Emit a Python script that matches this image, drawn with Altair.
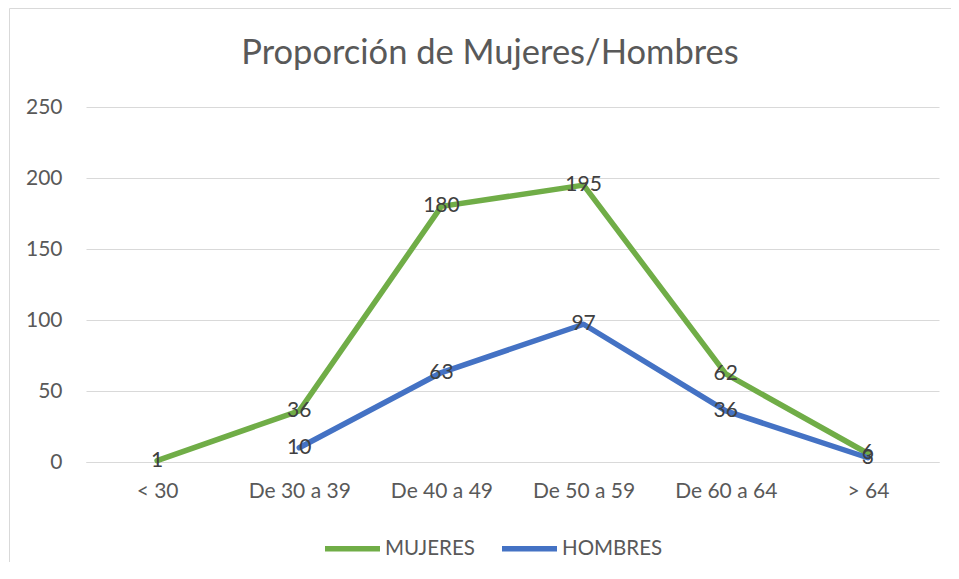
import altair as alt
import pandas as pd

categories = ["< 30", "De 30 a 39", "De 40 a 49", "De 50 a 59", "De 60 a 64", "> 64"]
mujeres = [1, 36, 180, 195, 62, 6]
hombres = [None, 10, 63, 97, 36, 3]
series_names = ["MUJERES", "HOMBRES"]
series_colors = ["#70AD47", "#4472C4"]
title_text = "Proporción de Mujeres/Hombres"

rows = []
for name, vals in zip(series_names, [mujeres, hombres]):
    for c, v in zip(categories, vals):
        if v is not None:
            rows.append({"grupo": c, "serie": name, "valor": v})
df = pd.DataFrame(rows)

FONT = "Lato"
GRAY = "#595959"
FS = 21

x = alt.X("grupo:N", sort=categories, title=None,
          scale=alt.Scale(type="point", padding=0.5),
          axis=alt.Axis(labelAngle=0, labelFontSize=FS, labelColor=GRAY, labelFont=FONT,
                        ticks=False, domainColor="#D9D9D9", labelPadding=18, grid=False))
y = alt.Y("valor:Q", title=None,
          scale=alt.Scale(domain=[0, 250], nice=False),
          axis=alt.Axis(values=[0, 50, 100, 150, 200, 250], labelFontSize=FS, labelColor=GRAY,
                        labelFont=FONT, ticks=False, domain=False, gridColor="#D9D9D9",
                        labelPadding=24))

one = pd.DataFrame({"t": [title_text]})

border = alt.Chart(one).mark_rect(
    fill=None, stroke="#D9D9D9", strokeWidth=1
).encode(x=alt.value(-76.5), x2=alt.value(900), y=alt.value(-98.5), y2=alt.value(600))

title = alt.Chart(one).mark_text(
    fontSize=34.5, font=FONT, color=GRAY, baseline="middle", align="center"
).encode(x=alt.value(404), y=alt.value(-53), text="t:N")

lines = alt.Chart(df).mark_line(strokeWidth=5.5, strokeCap="round", strokeJoin="round").encode(
    x=x, y=y,
    color=alt.Color("serie:N", sort=series_names,
                    scale=alt.Scale(domain=series_names, range=series_colors),
                    legend=alt.Legend(title=None, orient="none", legendX=236, legendY=411,
                                      direction="horizontal", symbolType="stroke",
                                      symbolSize=3025, symbolStrokeWidth=5.5,
                                      labelFontSize=20.5, labelColor=GRAY, labelFont=FONT,
                                      labelOffset=2, columnPadding=16)),
)

labels = alt.Chart(df).mark_text(fontSize=FS, color="#404040", font=FONT, baseline="middle").encode(
    x=alt.X("grupo:N", sort=categories), y="valor:Q", text="valor:Q"
)

chart = alt.layer(border, title, lines, labels).properties(
    width=853, height=355,
    autosize=alt.AutoSizeParams(type="none"),
    padding={"left": 78, "top": 99, "right": 12, "bottom": 100},
).configure_view(stroke=None)

chart.save("out.html", embed_options={"renderer": "svg", "actions": False})
